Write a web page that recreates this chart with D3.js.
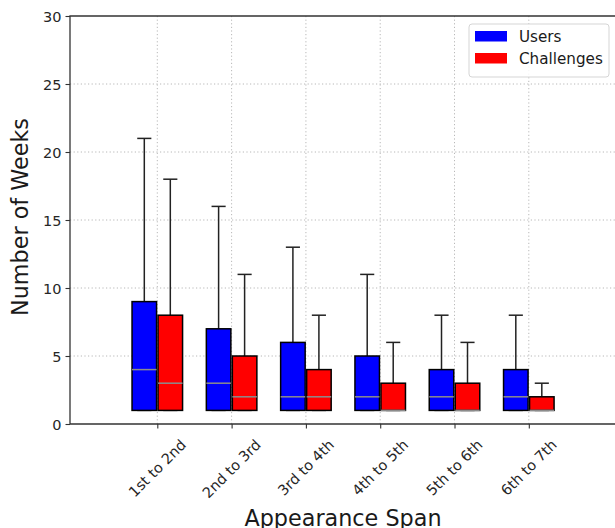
<!DOCTYPE html>
<html>
<head>
<meta charset="utf-8">
<script src="https://cdn.jsdelivr.net/npm/d3@7"></script>
<style>
  body { margin: 0; background: #fff; }
  svg { font-family: "DejaVu Sans", sans-serif; }
</style>
</head>
<body>
<svg id="chart" width="615" height="528"></svg>
<script>
//----------------------------------------------------------- DATA
var spans = ["1st to 2nd", "2nd to 3rd", "3rd to 4th", "4th to 5th", "5th to 6th", "6th to 7th"];
var usersMin = [1, 1, 1, 1, 1, 1];
var usersQ1 = [1, 1, 1, 1, 1, 1];
var usersMed = [4, 3, 2, 2, 2, 2];
var usersQ3 = [9, 7, 6, 5, 4, 4];
var usersMax = [21, 16, 13, 11, 8, 8];
var chalMin = [1, 1, 1, 1, 1, 1];
var chalQ1 = [1, 1, 1, 1, 1, 1];
var chalMed = [3, 2, 2, 1, 1, 1];
var chalQ3 = [8, 5, 4, 3, 3, 2];
var chalMax = [18, 11, 8, 6, 6, 3];
var yTicks = [0, 5, 10, 15, 20, 25, 30];

var series = [
  {name: "Users", color: "#0000ff", offset: -0.175, min: usersMin, q1: usersQ1, med: usersMed, q3: usersQ3, max: usersMax},
  {name: "Challenges", color: "#ff0000", offset: 0.175, min: chalMin, q1: chalQ1, med: chalMed, q3: chalQ3, max: chalMax}
];

//----------------------------------------------------------- SCALES
var svg = d3.select("#chart");
var mLeft = 70, mTop = 16, mBottom = 424, mRight = 615;

var x = d3.scaleLinear().domain([-0.175, 7.16]).range([mLeft, mRight]);
var y = d3.scaleLinear().domain([0, 30]).range([mBottom, mTop]);
var boxW = 0.33, capW = 0.19;

// grid
var grid = svg.append("g").attr("stroke", "#b0b0b0").attr("stroke-width", 0.9).attr("stroke-dasharray", "1.2,2.4");
grid.selectAll("line.gy").data(yTicks.slice(1, -1)).enter().append("line")
  .attr("x1", mLeft).attr("x2", mRight).attr("y1", d => y(d)).attr("y2", d => y(d));
grid.selectAll("line.gx").data(spans).enter().append("line")
  .attr("x1", (d, i) => x(i + 1)).attr("x2", (d, i) => x(i + 1)).attr("y1", mTop).attr("y2", mBottom);

//----------------------------------------------------------- BOXES
series.forEach(function (s) {
  var g = svg.append("g");
  var idx = d3.range(spans.length);
  var cx = i => x(i + 1 + s.offset);
  var half = x(boxW / 2) - x(0), cap = x(capW / 2) - x(0);

  // whiskers
  g.selectAll("line.wu").data(idx).enter().append("line")
    .attr("x1", cx).attr("x2", cx).attr("y1", i => y(s.q3[i])).attr("y2", i => y(s.max[i]))
    .attr("stroke", "#222").attr("stroke-width", 1.5);
  g.selectAll("line.cu").data(idx).enter().append("line")
    .attr("x1", i => cx(i) - cap).attr("x2", i => cx(i) + cap).attr("y1", i => y(s.max[i])).attr("y2", i => y(s.max[i]))
    .attr("stroke", "#222").attr("stroke-width", 1.5);
  g.selectAll("line.cl").data(idx).enter().append("line")
    .attr("x1", i => cx(i) - cap).attr("x2", i => cx(i) + cap).attr("y1", i => y(s.min[i])).attr("y2", i => y(s.min[i]))
    .attr("stroke", "#222").attr("stroke-width", 1.5);

  g.selectAll("rect").data(idx).enter().append("rect")
    .attr("x", i => cx(i) - half).attr("width", half * 2)
    .attr("y", i => y(s.q3[i])).attr("height", i => y(s.q1[i]) - y(s.q3[i]))
    .attr("fill", s.color).attr("stroke", "#000").attr("stroke-width", 1.5);

  g.selectAll("line.med").data(idx).enter().append("line")
    .attr("x1", i => cx(i) - half).attr("x2", i => cx(i) + half)
    .attr("y1", i => y(s.med[i])).attr("y2", i => y(s.med[i]))
    .attr("stroke", "#8c8c8c").attr("stroke-width", 1.5);
});

//----------------------------------------------------------- AXES
var yAxis = svg.append("g").attr("transform", "translate(" + mLeft + ",0)")
  .call(d3.axisLeft(y).tickValues(yTicks).tickSize(4.5).tickPadding(4));
var xAxis = svg.append("g").attr("transform", "translate(0," + mBottom + ")")
  .call(d3.axisBottom(x).tickValues(d3.range(1, spans.length + 1)).tickSize(4.5).tickFormat(""));
[yAxis, xAxis].forEach(function (a) {
  a.select(".domain").remove();
  a.selectAll("line").attr("stroke", "#333").attr("stroke-width", 1.1);
  a.selectAll("text").attr("fill", "#262626").attr("font-size", 14.5).attr("font-family", "DejaVu Sans");
});
yAxis.selectAll("text").attr("dy", "0.36em");

// spines
svg.append("path").attr("d", "M" + mRight + "," + mTop + "H" + mLeft + "V" + mBottom + "H" + mRight)
  .attr("fill", "none").attr("stroke", "#333").attr("stroke-width", 1.3);

// rotated category labels, centred under their ticks like matplotlib ha=center
spans.forEach(function (s, i) {
  var t = svg.append("text").text(s).attr("font-size", 14.5).attr("fill", "#262626")
    .attr("text-anchor", "middle").attr("dominant-baseline", "central");
  var w = t.node().getComputedTextLength(), h = 14.5;
  var cy = 437 + (w + h) * Math.SQRT1_2 / 2;
  t.attr("transform", "translate(" + x(i + 1) + "," + cy + ") rotate(-45)");
});

svg.append("text").text("Appearance Span").attr("x", 343).attr("y", 526)
  .attr("text-anchor", "middle").attr("font-size", 22.3).attr("fill", "#1a1a1a");
svg.append("text").text("Number of Weeks")
  .attr("transform", "translate(28,217) rotate(-90)")
  .attr("text-anchor", "middle").attr("font-size", 22.3).attr("fill", "#1a1a1a");

//----------------------------------------------------------- LEGEND
var lg = svg.append("g").attr("transform", "translate(469,24)");
lg.append("rect").attr("width", 140).attr("height", 53).attr("rx", 3)
  .attr("fill", "#fff").attr("fill-opacity", 0.85).attr("stroke", "#d5d5d5");
series.forEach(function (s, i) {
  lg.append("rect").attr("x", 6).attr("y", 7 + i * 22).attr("width", 32).attr("height", 10.5)
    .attr("fill", s.color);
  lg.append("text").text(s.name).attr("x", 50).attr("y", 18 + i * 22)
    .attr("font-size", 15.2).attr("fill", "#1a1a1a");
});
</script>
</body>
</html>
